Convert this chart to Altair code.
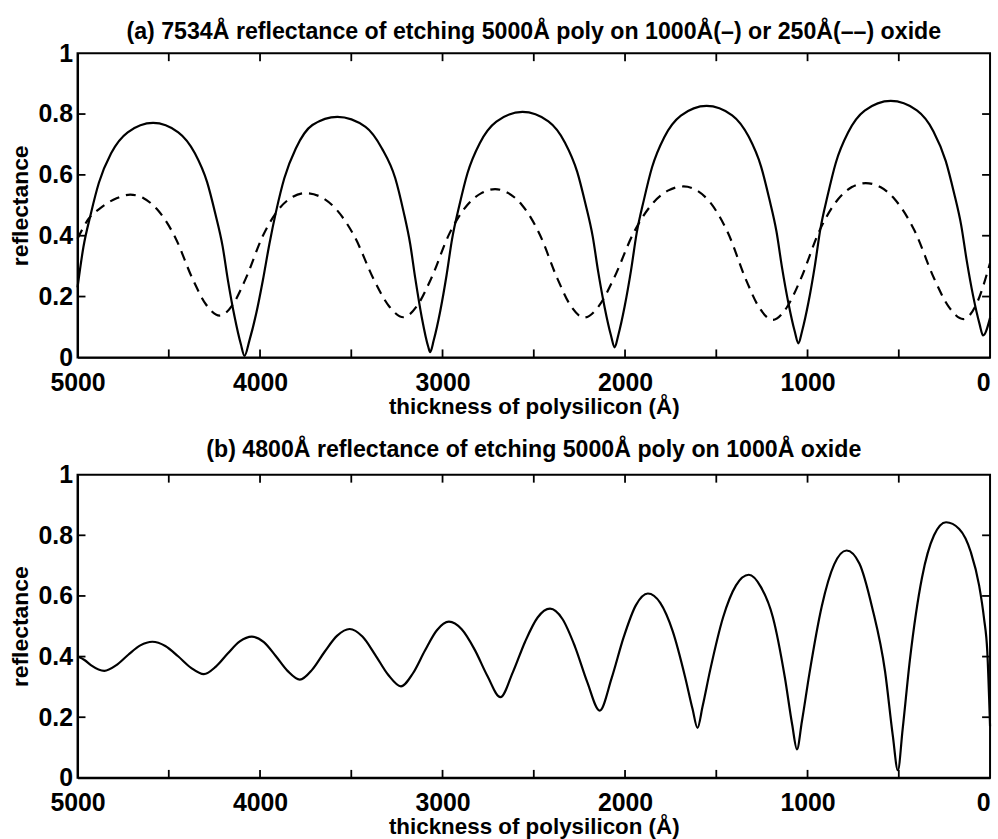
import altair as alt
import pandas as pd

# ---------------- data ----------------
# panel (a): 1000 A oxide (solid)
a_solid_x = [5000, 4968, 4928, 4883, 4816, 4725, 4586, 4448, 4357, 4290, 4245, 4205, 4175, 4140, 4105, 4085,
             4058, 4021, 3985, 3949, 3912, 3867, 3804, 3713, 3576, 3422, 3332, 3259, 3214, 3177, 3150, 3114, 3078, 3068,
             3048, 3013, 2978, 2948, 2908, 2863, 2796, 2705, 2562, 2420, 2329, 2262, 2217, 2177, 2147, 2112, 2077, 2057,
             2037, 2002, 1967, 1937, 1897, 1852, 1785, 1694, 1553, 1413, 1322, 1255, 1210, 1170, 1140, 1105, 1070, 1050,
             1030, 995, 960, 930, 890, 845, 778, 687, 544, 401, 310, 243, 198, 158, 128, 93, 58, 38, 0]
a_solid_y = [0.230, 0.362, 0.470, 0.574, 0.671, 0.740, 0.771, 0.740, 0.671, 0.576, 0.472, 0.365, 0.250, 0.135, 0.043, 0.005,
             0.056, 0.144, 0.252, 0.372, 0.480, 0.589, 0.687, 0.764, 0.791, 0.758, 0.687, 0.589, 0.480, 0.372, 0.262, 0.132, 0.034, 0.017,
             0.057, 0.151, 0.270, 0.388, 0.499, 0.606, 0.704, 0.775, 0.807, 0.776, 0.706, 0.610, 0.505, 0.397, 0.281, 0.165, 0.072, 0.033,
             0.073, 0.168, 0.287, 0.406, 0.517, 0.625, 0.724, 0.795, 0.827, 0.796, 0.725, 0.628, 0.522, 0.413, 0.296, 0.179, 0.085, 0.046,
             0.086, 0.181, 0.301, 0.421, 0.532, 0.640, 0.739, 0.811, 0.843, 0.812, 0.743, 0.646, 0.542, 0.434, 0.319, 0.203, 0.111, 0.072, 0.130]

# panel (a): 250 A oxide (dashed)
a_dash_x = [5000, 4940, 4875, 4786, 4711, 4638, 4564, 4466, 4368, 4295, 4221,
            4150, 4079, 3985, 3891, 3820, 3749, 3669, 3589, 3482, 3375, 3294, 3214,
            3139, 3063, 2963, 2863, 2787, 2712, 2639, 2566, 2468, 2370, 2297, 2224,
            2142, 2061, 1952, 1843, 1762, 1680, 1607, 1533, 1435, 1337, 1264, 1190,
            1114, 1037, 935, 834, 757, 681, 601, 521, 414, 307, 226, 146, 75, 0]
a_dash_y = [0.390, 0.455, 0.491, 0.523, 0.535, 0.523, 0.487, 0.396, 0.256, 0.173, 0.137,
            0.173, 0.258, 0.399, 0.492, 0.528, 0.540, 0.528, 0.491, 0.397, 0.254, 0.169, 0.132,
            0.170, 0.258, 0.406, 0.502, 0.540, 0.553, 0.540, 0.502, 0.405, 0.258, 0.169, 0.131,
            0.170, 0.260, 0.411, 0.510, 0.549, 0.562, 0.549, 0.509, 0.408, 0.255, 0.163, 0.123,
            0.164, 0.258, 0.416, 0.519, 0.560, 0.573, 0.560, 0.519, 0.417, 0.260, 0.166, 0.126, 0.175, 0.310]

# panel (b): 4800 A
b_x = [5000, 4960, 4925, 4853, 4787, 4722, 4656, 4590, 4519, 4449, 4378, 4308, 4242, 4177, 4111, 4045,
       3979, 3914, 3848, 3782, 3714, 3646, 3577, 3509, 3439, 3369, 3298, 3228, 3162, 3097, 3031, 2965,
       2895, 2824, 2754, 2683, 2615, 2547, 2479, 2411, 2343, 2275, 2207, 2139, 2073, 2007, 1941, 1875,
       1807, 1739, 1671, 1630, 1603, 1575, 1533, 1463, 1392, 1322, 1256, 1190, 1124, 1084, 1058,
       1031, 990, 922, 854, 786, 716, 646, 575, 533, 505, 479, 439, 373, 307, 241,
       169, 105, 60, 33, 15, 0]
b_y = [0.400, 0.388, 0.371, 0.353, 0.372, 0.406, 0.437, 0.449, 0.435, 0.401, 0.363, 0.342, 0.367, 0.410, 0.450, 0.466,
       0.448, 0.402, 0.352, 0.324, 0.357, 0.416, 0.469, 0.491, 0.466, 0.406, 0.340, 0.302, 0.345, 0.419, 0.487, 0.515,
       0.490, 0.423, 0.336, 0.266, 0.348, 0.450, 0.529, 0.558, 0.524, 0.434, 0.316, 0.222, 0.330, 0.465, 0.569, 0.608,
       0.577, 0.484, 0.333, 0.227, 0.165, 0.236, 0.357, 0.529, 0.635, 0.670, 0.630, 0.530, 0.330, 0.175, 0.094,
       0.186, 0.343, 0.566, 0.704, 0.750, 0.707, 0.562, 0.350, 0.140, 0.025, 0.160, 0.390, 0.660, 0.800, 0.843,
       0.821, 0.744, 0.635, 0.526, 0.416, 0.170]

x_label_vals = [5000, 4000, 3000, 2000, 1000, 0]
y_label_vals = [0, 0.2, 0.4, 0.6, 0.8, 1]
x_minor_ticks = [4500, 4000, 3500, 3000, 2500, 2000, 1500, 1000, 500]
y_minor_ticks = [0.2, 0.4, 0.6, 0.8]

title_a = "(a) 7534Å reflectance of etching 5000Å poly on 1000Å(–) or 250Å(––) oxide"
title_b = "(b) 4800Å reflectance of etching 5000Å poly on 1000Å oxide"
x_title = "thickness of polysilicon (Å)"
y_title = "reflectance"

# ---------------- styling ----------------
W = 918
FONT = "Liberation Sans"
TICK = 8

XS = alt.Scale(domain=[0, 5000], reverse=True, nice=False, zero=False)
YS = alt.Scale(domain=[0, 1], nice=False)
XAXIS = alt.Axis(
    values=x_label_vals, format="d", ticks=False, grid=False,
    domainColor="black", domainWidth=2,
    labelFont=FONT, labelFontSize=25, labelFontWeight="bold", labelColor="black",
    labelPadding=13,
    labelAlign={"condition": {"test": "datum.value == 0", "value": "right"}, "value": "center"},
    title=x_title, titleFont=FONT, titleFontSize=22.5, titleFontWeight="bold",
    titleColor="black", titlePadding=0,
)
YAXIS = alt.Axis(
    values=y_label_vals, format="~g", ticks=False, grid=False,
    domainColor="black", domainWidth=2,
    labelFont=FONT, labelFontSize=25, labelFontWeight="bold", labelColor="black",
    labelPadding=5,
    title=y_title, titleFont=FONT, titleFontSize=23, titleFontWeight="bold",
    titleColor="black", titlePadding=6,
)


def df_of(xs, ys):
    return pd.DataFrame({"x": xs, "y": ys, "i": list(range(len(xs)))})


def X():
    return alt.X("x:Q", scale=XS, axis=XAXIS)


def Y():
    return alt.Y("y:Q", scale=YS, axis=YAXIS)


def panel(series, title, H, offset):
    layers = []
    for xv, yv, dash in series:
        kw = {"strokeDash": dash} if dash else {}
        layers.append(
            alt.Chart(df_of(xv, yv))
            .mark_line(color="black", strokeWidth=2.2, interpolate="monotone", **kw)
            .encode(x=X(), y=Y(), order="i:Q")
        )

    xt = pd.DataFrame({"x": x_minor_ticks})
    yt = pd.DataFrame({"y": y_minor_ticks})
    rule = dict(color="black", strokeWidth=1.8)
    layers.append(alt.Chart(xt).mark_rule(**rule).encode(
        x=X(), y=alt.value(0), y2=alt.value(TICK)))
    layers.append(alt.Chart(xt).mark_rule(**rule).encode(
        x=X(), y=alt.value(H), y2=alt.value(H - TICK)))
    layers.append(alt.Chart(yt).mark_rule(**rule).encode(
        y=Y(), x=alt.value(0), x2=alt.value(TICK)))
    layers.append(alt.Chart(yt).mark_rule(**rule).encode(
        y=Y(), x=alt.value(W), x2=alt.value(W - TICK)))

    return alt.layer(*layers).properties(
        width=W, height=H,
        title=alt.TitleParams(text=title, font=FONT, fontSize=23.3, fontWeight="bold",
                              color="black", anchor="middle", frame="group", offset=offset),
    )


top = panel([(a_solid_x, a_solid_y, None), (a_dash_x, a_dash_y, [10, 7])], title_a, 306, -3)
bottom = panel([(b_x, b_y, None)], title_b, 305, 0)

chart = alt.vconcat(top, bottom, spacing=18).configure(
    padding={"left": 8, "top": 16, "right": 2, "bottom": 0},
    background="white",
).configure_view(stroke="black", strokeWidth=2)

chart.save("out.html", embed_options={"renderer": "svg", "actions": False})
